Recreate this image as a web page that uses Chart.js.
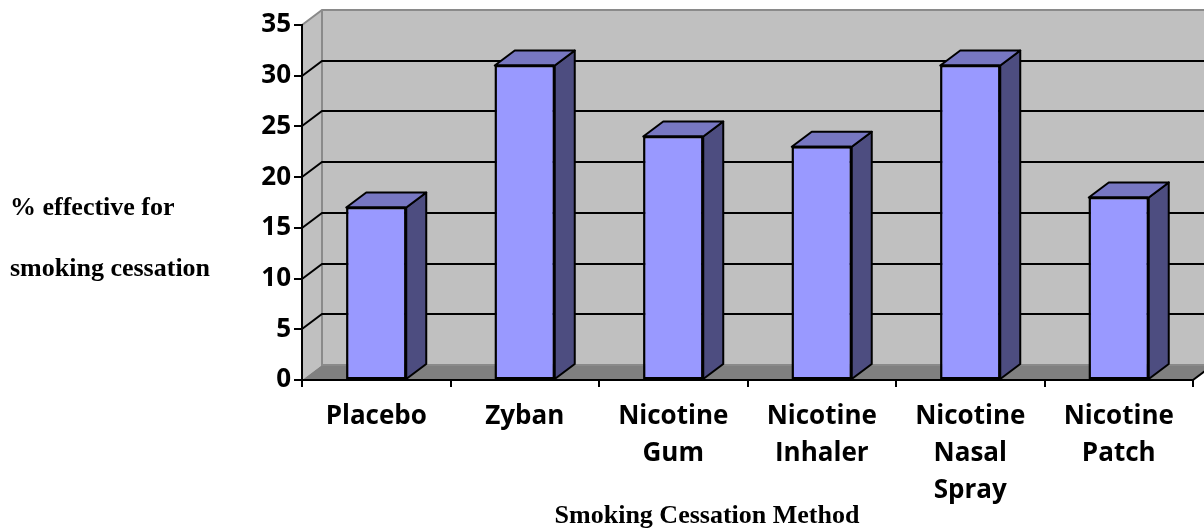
<!DOCTYPE html>
<html>
<head>
<meta charset="utf-8">
<title>Smoking Cessation Methods</title>
<script src="https://cdn.jsdelivr.net/npm/chart.js@4"></script>
<style>
  html, body { margin: 0; padding: 0; background: #ffffff; }
  canvas { display: block; }
</style>
</head>
<body>
<canvas id="chart" width="1204" height="531"></canvas>
<script>
// Category labels (multi-line where the label wraps)
const methods = [
  'Placebo',
  'Zyban',
  ['Nicotine', 'Gum'],
  ['Nicotine', 'Inhaler'],
  ['Nicotine', 'Nasal', 'Spray'],
  ['Nicotine', 'Patch']
];

// Percentage of people who quit with each method
const effectivePct = [17, 31, 24, 23, 31, 18];

// Value axis ticks
const yTickValues = [0, 5, 10, 15, 20, 25, 30, 35];

// Axis titles
const yTitleLines = ['% effective for', 'smoking cessation'];
const xTitle = 'Smoking Cessation Method';

// 3D look: offset of the back plane from the front plane, in pixels
const DEPTH_X = 20;
const DEPTH_Y = -15;

const FRONT = '#9999FF';
const SIDE = '#4D4D80';
const TOP = '#7777C2';
const WALL = '#C0C0C0';
const FLOOR = '#808080';
const WALL_EDGE = '#8A8A8A';

function poly(ctx, pts) {
  ctx.beginPath();
  ctx.moveTo(pts[0][0], pts[0][1]);
  for (let i = 1; i < pts.length; i++) ctx.lineTo(pts[i][0], pts[i][1]);
  ctx.closePath();
}

// Walls, floor and gridlines drawn behind everything else
const wallsPlugin = {
  id: 'walls3d',
  beforeDraw(chart) {
    const { ctx, chartArea: a, scales: { y } } = chart;
    const L = a.left, R = a.right, T = a.top, B = a.bottom;
    const dx = DEPTH_X, dy = DEPTH_Y;
    ctx.save();
    ctx.lineJoin = 'miter';

    // back wall
    ctx.fillStyle = WALL;
    poly(ctx, [[L + dx, T + dy], [R + dx, T + dy], [R + dx, B + dy], [L + dx, B + dy]]);
    ctx.fill();

    // left side wall
    poly(ctx, [[L, T], [L + dx, T + dy], [L + dx, B + dy], [L, B]]);
    ctx.fill();

    // floor
    ctx.fillStyle = FLOOR;
    poly(ctx, [[L, B], [L + dx, B + dy], [R + dx, B + dy], [R, B]]);
    ctx.fill();

    // wall outlines
    ctx.strokeStyle = WALL_EDGE;
    ctx.lineWidth = 2;
    ctx.beginPath();
    ctx.moveTo(L, T); ctx.lineTo(L + dx, T + dy); ctx.lineTo(R + dx, T + dy);
    ctx.moveTo(L + dx, T + dy); ctx.lineTo(L + dx, B + dy); ctx.lineTo(R + dx, B + dy);
    ctx.stroke();

    // floor right edge
    ctx.strokeStyle = '#000000';
    ctx.beginPath();
    ctx.moveTo(R, B); ctx.lineTo(R + dx, B + dy);
    ctx.stroke();

    // gridlines on the left wall and back wall
    ctx.strokeStyle = '#000000';
    ctx.lineWidth = 2;
    const maxV = yTickValues[yTickValues.length - 1];
    yTickValues.forEach(v => {
      if (v === 0 || v === maxV) return;
      const py = Math.round(y.getPixelForValue(v));
      ctx.beginPath();
      ctx.moveTo(L, py);
      ctx.lineTo(L + dx, py + dy);
      ctx.lineTo(R + dx, py + dy);
      ctx.stroke();
    });
    ctx.restore();
  }
};

// Side and top faces of each bar
const barDepthPlugin = {
  id: 'barDepth',
  afterDatasetsDraw(chart) {
    const { ctx } = chart;
    const dx = DEPTH_X, dy = DEPTH_Y;
    ctx.save();
    ctx.lineWidth = 2;
    ctx.strokeStyle = '#000000';
    ctx.lineJoin = 'round';
    chart.getDatasetMeta(0).data.forEach(bar => {
      const p = bar.getProps(['x', 'y', 'base', 'width'], true);
      const xl = p.x - p.width / 2, xr = p.x + p.width / 2;
      const top = p.y, base = p.base;
      // side
      ctx.fillStyle = SIDE;
      poly(ctx, [[xr, top], [xr + dx, top + dy], [xr + dx, base + dy], [xr, base]]);
      ctx.fill(); ctx.stroke();
      // top
      ctx.fillStyle = TOP;
      poly(ctx, [[xl, top], [xl + dx, top + dy], [xr + dx, top + dy], [xr, top]]);
      ctx.fill(); ctx.stroke();
      // front outline redrawn crisp
      ctx.strokeRect(xl + 1, top, p.width - 2, base - top);
    });
    ctx.restore();
  }
};

// Horizontal axis titles
const titlesPlugin = {
  id: 'axisTitles',
  afterDraw(chart) {
    const { ctx } = chart;
    ctx.save();
    ctx.fillStyle = '#000000';
    ctx.font = 'bold 26px "Liberation Serif", "Times New Roman", serif';
    ctx.textBaseline = 'alphabetic';
    ctx.textAlign = 'left';
    ctx.fillText(yTitleLines[0], 10, 215);
    ctx.fillText(yTitleLines[1], 10, 276);
    ctx.textAlign = 'center';
    ctx.fillText(xTitle, 707, 523);
    ctx.restore();
  }
};

const tickFont = { family: '"Open Sans", "Noto Sans", sans-serif', size: 26, weight: 'bold', lineHeight: 1.42 };

new Chart(document.getElementById('chart'), {
  type: 'bar',
  data: {
    labels: methods,
    datasets: [{
      data: effectivePct,
      backgroundColor: FRONT,
      borderColor: '#000000',
      borderWidth: 2,
      borderSkipped: false,
      categoryPercentage: 1,
      barPercentage: 0.404
    }]
  },
  plugins: [wallsPlugin, barDepthPlugin, titlesPlugin],
  options: {
    responsive: false,
    animation: false,
    devicePixelRatio: 1,
    layout: { padding: { top: 25, right: 11, left: 0, bottom: 0 } },
    plugins: { legend: { display: false }, tooltip: { enabled: false } },
    scales: {
      x: {
        grid: { drawOnChartArea: false, drawTicks: true, tickLength: 7, tickColor: '#000000', lineWidth: 2, offset: true },
        border: { display: true, color: '#000000', width: 2 },
        ticks: { color: '#000000', font: tickFont, padding: 11, maxRotation: 0, autoSkip: false },
        afterFit(scale) { scale.height = 151; scale.paddingLeft = 0; scale.paddingRight = 0; }
      },
      y: {
        min: 0,
        max: 35,
        afterBuildTicks(scale) { scale.ticks = yTickValues.map(v => ({ value: v })); },
        grid: { drawOnChartArea: false, drawTicks: true, tickLength: 8, tickColor: '#000000', lineWidth: 2 },
        border: { display: true, color: '#000000', width: 2 },
        ticks: { color: '#000000', font: tickFont, padding: 3 },
        afterFit(scale) { scale.width = 302; scale.paddingTop = 0; scale.paddingBottom = 0; }
      }
    }
  }
});
</script>
</body>
</html>
